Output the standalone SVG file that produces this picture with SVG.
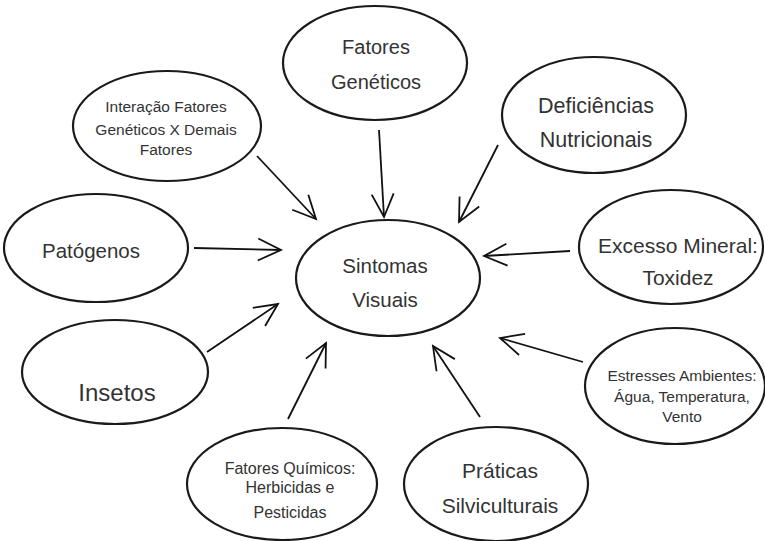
<svg xmlns="http://www.w3.org/2000/svg" width="765" height="541" viewBox="0 0 765 541">
<defs>
<marker id="arr" markerUnits="userSpaceOnUse" markerWidth="30" markerHeight="30" refX="0" refY="0" viewBox="-25 -15 30 30" orient="auto">
<path d="M-23,-11 L0,0 L-23,11" fill="none" stroke="#111" stroke-width="1.8" stroke-linejoin="miter"/>
</marker>
</defs>
<style>
ellipse{fill:#fff;stroke:#1a1a1a;stroke-width:2.2}
text{font-family:"Liberation Sans",Arial,sans-serif;fill:#333;text-anchor:middle}
.c line{stroke:#111;stroke-width:1.8;marker-end:url(#arr)}
</style>
<rect width="765" height="541" fill="#fff"/>
<g id="geneticos"><ellipse cx="375" cy="63" rx="92" ry="57"/><text font-size="20" x="376" y="54">Fatores</text><text font-size="20" x="376" y="89">Genéticos</text></g>
<g id="interacao"><ellipse cx="167" cy="126" rx="94" ry="55"/><text font-size="15.5" x="166" y="112">Interação Fatores</text><text font-size="15.5" x="166" y="135">Genéticos X Demais</text><text font-size="15.5" x="166" y="155">Fatores</text></g>
<g id="deficiencias"><ellipse cx="594" cy="115" rx="92" ry="58"/><text font-size="21.5" x="596" y="113">Deficiências</text><text font-size="21.5" x="596" y="147">Nutricionais</text></g>
<g id="patogenos"><ellipse cx="96" cy="248" rx="92" ry="54"/><text font-size="20.5" x="91" y="258">Patógenos</text></g>
<g id="sintomas"><ellipse cx="388" cy="278" rx="92" ry="58"/><text font-size="20.5" x="385" y="273">Sintomas</text><text font-size="20.5" x="385" y="307">Visuais</text></g>
<g id="excesso"><ellipse cx="671" cy="247" rx="92" ry="57"/><text font-size="21" x="678" y="253">Excesso Mineral:</text><text font-size="21" x="678" y="285">Toxidez</text></g>
<g id="insetos"><ellipse cx="115" cy="372" rx="93" ry="52"/><text font-size="24" x="117" y="401">Insetos</text></g>
<g id="estresses"><ellipse cx="675" cy="386" rx="90" ry="58"/><text font-size="15.5" x="682" y="381">Estresses Ambientes:</text><text font-size="15.5" x="682" y="402">Água, Temperatura,</text><text font-size="15.5" x="682" y="422">Vento</text></g>
<g id="quimicos"><ellipse cx="282" cy="484" rx="95" ry="56"/><text font-size="16" x="290" y="474">Fatores Químicos:</text><text font-size="16" x="290" y="493">Herbicidas e</text><text font-size="16" x="290" y="518">Pesticidas</text></g>
<g id="praticas"><ellipse cx="496" cy="484" rx="92" ry="57"/><text font-size="21" x="500" y="478">Práticas</text><text font-size="21" x="500" y="513">Silviculturais</text></g>
<g class="c" id="connectors">
<line x1="379" y1="130" x2="384" y2="217"/>
<line x1="257" y1="156" x2="316" y2="219"/>
<line x1="498" y1="145" x2="459" y2="222"/>
<line x1="194" y1="248" x2="281" y2="250"/>
<line x1="570" y1="251" x2="484" y2="256"/>
<line x1="207" y1="352" x2="278" y2="304"/>
<line x1="583" y1="362" x2="500" y2="338"/>
<line x1="288" y1="419" x2="326" y2="343"/>
<line x1="480" y1="417" x2="433" y2="346"/>
</g>
</svg>
